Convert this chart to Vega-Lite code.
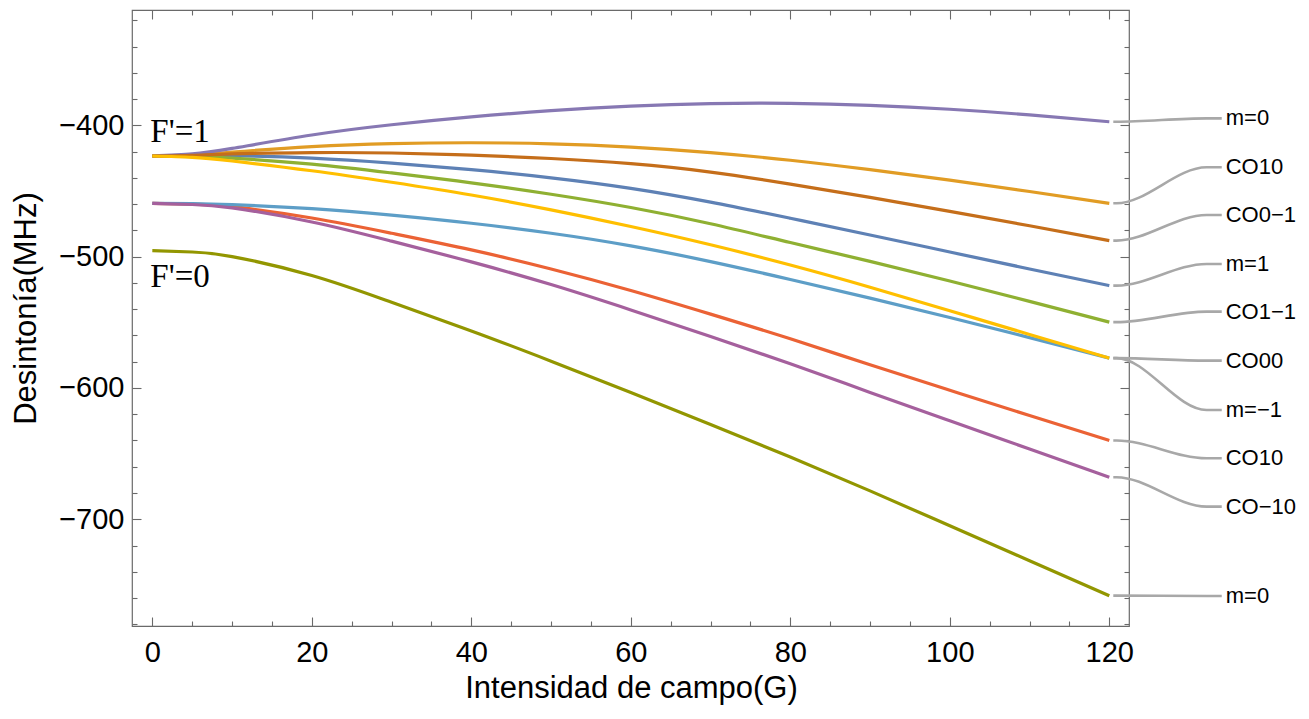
{
  "$schema": "https://vega.github.io/schema/vega-lite/v6.json",
  "width": 997,
  "height": 616,
  "autosize": {"type": "none"},
  "padding": {"left": 132, "top": 10, "right": 180, "bottom": 93},
  "background": "white",
  "config": {
    "view": {"stroke": "#6a6a6a", "strokeWidth": 1.2},
    "axis": {
      "domain": false,
      "grid": false,
      "tickColor": "#6a6a6a",
      "tickWidth": 1.1,
      "labelFont": "Liberation Sans",
      "labelFontSize": 29,
      "labelColor": "#000000",
      "titleFont": "Liberation Sans",
      "titleFontSize": 31,
      "titleFontWeight": "normal",
      "titleColor": "#000000"
    }
  },
  "datasets": {
    "curves": [
      {"s":"s01","x":0,"y":-423.4},{"s":"s01","x":5,"y":-423.3},{"s":"s01","x":10,"y":-423.2},{"s":"s01","x":20,"y":-425.0},{"s":"s01","x":30,"y":-428.8},{"s":"s01","x":40,"y":-433.8},{"s":"s01","x":50,"y":-440.0},{"s":"s01","x":60,"y":-448.0},{"s":"s01","x":70,"y":-458.5},{"s":"s01","x":80,"y":-470.8},{"s":"s01","x":90,"y":-483.5},{"s":"s01","x":100,"y":-496.5},{"s":"s01","x":110,"y":-509.4},{"s":"s01","x":120,"y":-522.1},
      {"s":"s02","x":0,"y":-423.4},{"s":"s02","x":5,"y":-422.6},{"s":"s02","x":10,"y":-420.4},{"s":"s02","x":20,"y":-416.2},{"s":"s02","x":30,"y":-413.9},{"s":"s02","x":40,"y":-413.3},{"s":"s02","x":50,"y":-414.1},{"s":"s02","x":60,"y":-416.6},{"s":"s02","x":70,"y":-420.8},{"s":"s02","x":80,"y":-426.6},{"s":"s02","x":90,"y":-433.8},{"s":"s02","x":100,"y":-441.8},{"s":"s02","x":110,"y":-450.4},{"s":"s02","x":120,"y":-459.4},
      {"s":"s03","x":0,"y":-423.4},{"s":"s03","x":5,"y":-423.8},{"s":"s03","x":10,"y":-425.0},{"s":"s03","x":20,"y":-429.6},{"s":"s03","x":30,"y":-436.3},{"s":"s03","x":40,"y":-443.8},{"s":"s03","x":50,"y":-452.5},{"s":"s03","x":60,"y":-462.6},{"s":"s03","x":70,"y":-475.0},{"s":"s03","x":80,"y":-489.3},{"s":"s03","x":90,"y":-503.6},{"s":"s03","x":100,"y":-518.6},{"s":"s03","x":110,"y":-534.1},{"s":"s03","x":120,"y":-549.9},
      {"s":"s04","x":0,"y":-459.4},{"s":"s04","x":5,"y":-460.0},{"s":"s04","x":10,"y":-462.0},{"s":"s04","x":20,"y":-470.6},{"s":"s04","x":30,"y":-482.2},{"s":"s04","x":40,"y":-494.9},{"s":"s04","x":50,"y":-509.4},{"s":"s04","x":60,"y":-525.8},{"s":"s04","x":70,"y":-543.8},{"s":"s04","x":80,"y":-562.6},{"s":"s04","x":90,"y":-582.4},{"s":"s04","x":100,"y":-601.8},{"s":"s04","x":110,"y":-621.0},{"s":"s04","x":120,"y":-640.0},
      {"s":"s05","x":0,"y":-423.4},{"s":"s05","x":5,"y":-421.8},{"s":"s05","x":10,"y":-417.6},{"s":"s05","x":20,"y":-407.4},{"s":"s05","x":30,"y":-399.6},{"s":"s05","x":40,"y":-393.6},{"s":"s05","x":50,"y":-388.8},{"s":"s05","x":60,"y":-385.4},{"s":"s05","x":70,"y":-383.5},{"s":"s05","x":80,"y":-383.3},{"s":"s05","x":90,"y":-384.8},{"s":"s05","x":100,"y":-387.8},{"s":"s05","x":110,"y":-392.1},{"s":"s05","x":120,"y":-397.3},
      {"s":"s06","x":0,"y":-423.4},{"s":"s06","x":5,"y":-422.9},{"s":"s06","x":10,"y":-421.8},{"s":"s06","x":20,"y":-420.8},{"s":"s06","x":30,"y":-421.1},{"s":"s06","x":40,"y":-422.7},{"s":"s06","x":50,"y":-425.3},{"s":"s06","x":60,"y":-429.2},{"s":"s06","x":70,"y":-435.6},{"s":"s06","x":80,"y":-444.8},{"s":"s06","x":90,"y":-454.9},{"s":"s06","x":100,"y":-465.5},{"s":"s06","x":110,"y":-476.5},{"s":"s06","x":120,"y":-487.8},
      {"s":"s07","x":0,"y":-459.4},{"s":"s07","x":5,"y":-459.6},{"s":"s07","x":10,"y":-460.4},{"s":"s07","x":20,"y":-463.5},{"s":"s07","x":30,"y":-468.4},{"s":"s07","x":40,"y":-474.6},{"s":"s07","x":50,"y":-482.2},{"s":"s07","x":60,"y":-491.8},{"s":"s07","x":70,"y":-503.8},{"s":"s07","x":80,"y":-517.4},{"s":"s07","x":90,"y":-531.6},{"s":"s07","x":100,"y":-546.4},{"s":"s07","x":110,"y":-561.7},{"s":"s07","x":120,"y":-577.3},
      {"s":"s08","x":0,"y":-423.4},{"s":"s08","x":5,"y":-424.4},{"s":"s08","x":10,"y":-427.2},{"s":"s08","x":20,"y":-434.6},{"s":"s08","x":30,"y":-443.4},{"s":"s08","x":40,"y":-453.1},{"s":"s08","x":50,"y":-464.4},{"s":"s08","x":60,"y":-477.1},{"s":"s08","x":70,"y":-491.0},{"s":"s08","x":80,"y":-506.4},{"s":"s08","x":90,"y":-523.3},{"s":"s08","x":100,"y":-541.2},{"s":"s08","x":110,"y":-559.3},{"s":"s08","x":120,"y":-577.3},
      {"s":"s09","x":0,"y":-459.4},{"s":"s09","x":5,"y":-460.3},{"s":"s09","x":10,"y":-462.9},{"s":"s09","x":20,"y":-473.6},{"s":"s09","x":30,"y":-488.2},{"s":"s09","x":40,"y":-504.0},{"s":"s09","x":50,"y":-521.3},{"s":"s09","x":60,"y":-540.6},{"s":"s09","x":70,"y":-560.8},{"s":"s09","x":80,"y":-581.6},{"s":"s09","x":90,"y":-603.4},{"s":"s09","x":100,"y":-625.0},{"s":"s09","x":110,"y":-646.5},{"s":"s09","x":120,"y":-668.0},
      {"s":"s10","x":0,"y":-495.4},{"s":"s10","x":5,"y":-496.5},{"s":"s10","x":10,"y":-500.0},{"s":"s10","x":20,"y":-514.4},{"s":"s10","x":30,"y":-534.8},{"s":"s10","x":40,"y":-556.6},{"s":"s10","x":50,"y":-579.6},{"s":"s10","x":60,"y":-603.4},{"s":"s10","x":70,"y":-627.8},{"s":"s10","x":80,"y":-652.6},{"s":"s10","x":90,"y":-678.4},{"s":"s10","x":100,"y":-705.0},{"s":"s10","x":110,"y":-731.6},{"s":"s10","x":120,"y":-758.2}
    ],
    "connectors": [
      {"k":"c01","x":120.5,"y":-397.3},{"k":"c01","x":120.9,"y":-397.3},{"k":"c01","x":132.2,"y":-394.7},{"k":"c01","x":134.1,"y":-394.7},
      {"k":"c02","x":120.5,"y":-459.4},{"k":"c02","x":120.9,"y":-459.4},{"k":"c02","x":132.2,"y":-432.0},{"k":"c02","x":134.1,"y":-432.0},
      {"k":"c03","x":120.5,"y":-487.8},{"k":"c03","x":120.9,"y":-487.8},{"k":"c03","x":132.2,"y":-468.3},{"k":"c03","x":134.1,"y":-468.3},
      {"k":"c04","x":120.5,"y":-522.1},{"k":"c04","x":120.9,"y":-522.1},{"k":"c04","x":132.2,"y":-505.6},{"k":"c04","x":134.1,"y":-505.6},
      {"k":"c05","x":120.5,"y":-549.9},{"k":"c05","x":120.9,"y":-549.9},{"k":"c05","x":132.2,"y":-541.9},{"k":"c05","x":134.1,"y":-541.9},
      {"k":"c06","x":120.5,"y":-577.3},{"k":"c06","x":120.9,"y":-577.3},{"k":"c06","x":132.2,"y":-579.2},{"k":"c06","x":134.1,"y":-579.2},
      {"k":"c07","x":120.5,"y":-577.3},{"k":"c07","x":120.9,"y":-577.3},{"k":"c07","x":132.2,"y":-616.8},{"k":"c07","x":134.1,"y":-616.8},
      {"k":"c08","x":120.5,"y":-640.0},{"k":"c08","x":120.9,"y":-640.0},{"k":"c08","x":132.2,"y":-653.6},{"k":"c08","x":134.1,"y":-653.6},
      {"k":"c09","x":120.5,"y":-668.0},{"k":"c09","x":120.9,"y":-668.0},{"k":"c09","x":132.2,"y":-690.4},{"k":"c09","x":134.1,"y":-690.4},
      {"k":"c10","x":120.5,"y":-758.2},{"k":"c10","x":120.9,"y":-758.2},{"k":"c10","x":132.2,"y":-758.4},{"k":"c10","x":134.1,"y":-758.4}
    ],
    "labels": [
      {"t":"m=0","x":134.6,"y":-394.7},
      {"t":"CO10","x":134.6,"y":-432.0},
      {"t":"CO0−1","x":134.6,"y":-468.3},
      {"t":"m=1","x":134.6,"y":-505.6},
      {"t":"CO1−1","x":134.6,"y":-541.9},
      {"t":"CO00","x":134.6,"y":-579.2},
      {"t":"m=−1","x":134.6,"y":-616.8},
      {"t":"CO10","x":134.6,"y":-653.6},
      {"t":"CO−10","x":134.6,"y":-690.4},
      {"t":"m=0","x":134.6,"y":-758.4}
    ],
    "flabels": [
      {"t":"F'=1","x":0,"y":-412.5},
      {"t":"F'=0","x":0,"y":-522.8}
    ]
  },
  "resolve": {"axis": {"x": "independent", "y": "independent"}},
  "layer": [
    {
      "data": {"name": "curves"},
      "mark": {"type": "line", "interpolate": "natural", "strokeWidth": 3.2},
      "encoding": {
        "x": {"field": "x", "type": "quantitative",
              "scale": {"domain": [-2.55, 122.47], "nice": false, "zero": false},
              "axis": {"orient": "bottom", "values": [0,20,40,60,80,100,120], "tickSize": -9, "labelPadding": 21.5,
                       "title": "Intensidad de campo(G)", "titleX": 499, "titleY": 71, "titleAngle": 0,
                       "titleBaseline": "alphabetic", "titleAlign": "center"}},
        "y": {"field": "y", "type": "quantitative",
              "scale": {"domain": [-781.3, -312.2], "nice": false, "zero": false},
              "axis": {"orient": "left", "values": [-400,-500,-600,-700], "tickSize": -9, "labelPadding": 17,
                       "title": "Desintonía(MHz)", "titleX": -97, "titleY": 298, "titleAngle": -90,
                       "titleBaseline": "alphabetic", "titleAlign": "center"}},
        "color": {"field": "s", "type": "nominal", "legend": null,
                  "scale": {"domain": ["s01","s02","s03","s04","s05","s06","s07","s08","s09","s10"],
                            "range": ["#5E81B5","#E19C24","#8FB032","#EB6235","#8778B3","#C56E1A","#5D9EC7","#FFBF00","#A5609D","#929600"]}}
      }
    },
    {
      "data": {"name": "connectors"},
      "mark": {"type": "line", "interpolate": "monotone", "strokeWidth": 2.6, "color": "#a8a8a8"},
      "encoding": {
        "x": {"field": "x", "type": "quantitative",
              "scale": {"domain": [-2.55, 122.47], "nice": false, "zero": false},
              "axis": {"orient": "top", "values": [0,20,40,60,80,100,120], "tickSize": -9, "labels": false, "title": null}},
        "y": {"field": "y", "type": "quantitative",
              "scale": {"domain": [-781.3, -312.2], "nice": false, "zero": false},
              "axis": {"orient": "right", "values": [-400,-500,-600,-700], "tickSize": -9, "labels": false, "title": null}},
        "detail": {"field": "k", "type": "nominal"}
      }
    },
    {
      "data": {"name": "labels"},
      "mark": {"type": "text", "align": "left", "baseline": "middle", "font": "Liberation Sans", "fontSize": 22, "color": "#000000"},
      "encoding": {
        "x": {"field": "x", "type": "quantitative",
              "scale": {"domain": [-2.55, 122.47], "nice": false, "zero": false},
              "axis": {"orient": "bottom", "values": [5,10,15,25,30,35,45,50,55,65,70,75,85,90,95,105,110,115], "tickSize": -5, "labels": false, "title": null}},
        "y": {"field": "y", "type": "quantitative",
              "scale": {"domain": [-781.3, -312.2], "nice": false, "zero": false},
              "axis": {"orient": "left", "values": [-320,-340,-360,-380,-420,-440,-460,-480,-520,-540,-560,-580,-620,-640,-660,-680,-720,-740,-760,-780], "tickSize": -5, "labels": false, "title": null}},
        "text": {"field": "t", "type": "nominal"}
      }
    },
    {
      "data": {"name": "flabels"},
      "mark": {"type": "text", "align": "left", "baseline": "alphabetic", "font": "Liberation Serif", "fontSize": 33, "color": "#000000", "dx": -2},
      "encoding": {
        "x": {"field": "x", "type": "quantitative",
              "scale": {"domain": [-2.55, 122.47], "nice": false, "zero": false},
              "axis": {"orient": "top", "values": [5,10,15,25,30,35,45,50,55,65,70,75,85,90,95,105,110,115], "tickSize": -5, "labels": false, "title": null}},
        "y": {"field": "y", "type": "quantitative",
              "scale": {"domain": [-781.3, -312.2], "nice": false, "zero": false},
              "axis": {"orient": "right", "values": [-320,-340,-360,-380,-420,-440,-460,-480,-520,-540,-560,-580,-620,-640,-660,-680,-720,-740,-760,-780], "tickSize": -5, "labels": false, "title": null}},
        "text": {"field": "t", "type": "nominal"}
      }
    }
  ]
}
